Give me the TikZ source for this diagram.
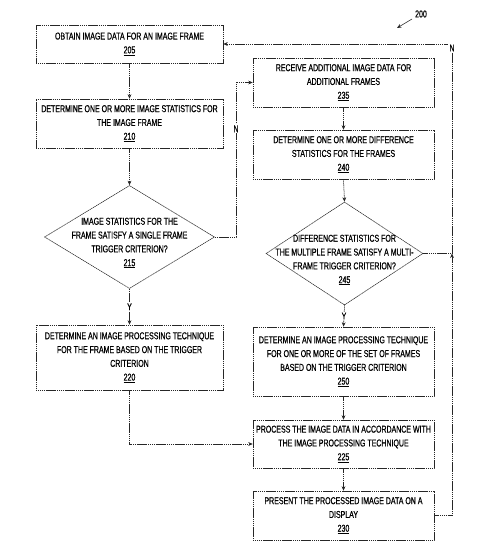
\documentclass[tikz,border=0pt]{standalone}
\usepackage{fontspec}
\setmainfont{Liberation Sans}[FakeStretch=0.70,FakeBold=0.6]
\usetikzlibrary{shapes.geometric,arrows.meta}
\tikzset{
  ln/.style={draw=black!85, line width=0.55pt, dash pattern=on 1.4pt off 0.5pt},
  box/.style={ln, rectangle, inner sep=0pt, align=center,
    font=\fontsize{10}{13.8}\selectfont},
  dia/.style={ln, diamond, inner sep=0pt},
  dtext/.style={align=center, inner sep=0pt, font=\fontsize{10}{13.8}\selectfont},
  conn/.style={ln, -{Stealth[length=4.5pt,width=3.8pt]}},
  plain/.style={ln},
  lab/.style={fill=white, inner sep=1pt, font=\fontsize{10}{11}\selectfont}
}
\begin{document}
\begin{tikzpicture}[x=1pt,y=-1pt]
\useasboundingbox (0,0) rectangle (496,556);
% left column
\node[box, minimum width=187pt, minimum height=38pt] (b205) at (129.5,44) {OBTAIN IMAGE DATA FOR AN IMAGE FRAME\\\underline{205}};
\node[box, minimum width=187pt, minimum height=49pt] (b210) at (129.5,123.5) {DETERMINE ONE OR MORE IMAGE STATISTICS FOR\\THE IMAGE FRAME\\\underline{210}};
\node[dia, minimum width=170pt, minimum height=103pt] (d215) at (129.5,237) {};
\node[dtext] (t215) at (129.5,243) {IMAGE STATISTICS FOR THE\\FRAME SATISFY A SINGLE FRAME\\TRIGGER CRITERION?\\\underline{215}};
\node[box, minimum width=187pt, minimum height=65pt] (b220) at (129.5,357.5) {DETERMINE AN IMAGE PROCESSING TECHNIQUE\\FOR THE FRAME BASED ON THE TRIGGER\\CRITERION\\\underline{220}};
% right column
\node[box, minimum width=181pt, minimum height=49pt] (b235) at (343.5,82.5) {RECEIVE ADDITIONAL IMAGE DATA FOR\\ADDITIONAL FRAMES\\\underline{235}};
\node[box, minimum width=181pt, minimum height=49pt] (b240) at (343.5,154.5) {DETERMINE ONE OR MORE DIFFERENCE\\STATISTICS FOR THE FRAMES\\\underline{240}};
\node[dia, minimum width=157pt, minimum height=103pt] (d245) at (344.5,253.5) {};
\node[dtext] (t245) at (344.5,260) {DIFFERENCE STATISTICS FOR\\THE MULTIPLE FRAME SATISFY A MULTI-\\FRAME TRIGGER CRITERION?\\\underline{245}};
\node[box, minimum width=181pt, minimum height=69pt] (b250) at (343.5,361.5) {DETERMINE AN IMAGE PROCESSING TECHNIQUE\\FOR ONE OR MORE OF THE SET OF FRAMES\\BASED ON THE TRIGGER CRITERION\\\underline{250}};
\node[box, minimum width=181pt, minimum height=48pt] (b225) at (343.5,444) {PROCESS THE IMAGE DATA IN ACCORDANCE WITH\\THE IMAGE PROCESSING TECHNIQUE\\\underline{225}};
\node[box, minimum width=181pt, minimum height=49pt] (b230) at (343.5,515.5) {PRESENT THE PROCESSED IMAGE DATA ON A\\DISPLAY\\\underline{230}};
% reference label
\node[inner sep=0pt, font=\fontsize{10}{11}\selectfont] (l200) at (421,14) {200};
\coordinate (a200) at (397,28);
\draw[conn, dash pattern=] (412,19) -- (a200);
% connectors
\draw[conn] (b205.south) -- (b210.north);
\draw[conn] (b210.south) -- (d215.north);
\coordinate (c215) at (236,237);
\draw[conn] (d215.east) -- (c215) |- node[lab, pos=0.35] (n215) {N} (b235.west);
\draw[conn] (d215.south) -- node[lab] (y215) {Y} (b220.north);
\draw[conn] (b220.south) |- (b225.west);
\draw[conn] (b235.south) -- (b240.north);
\draw[conn] (b240.south) -- (d245.north);
\draw[conn] (d245.south) -- node[lab] (y245) {Y} (b250.north);
\draw[conn] (b250.south) -- (b225.north);
\draw[conn] (b225.south) -- (b230.north);
\coordinate (j) at (452,253.5);
\coordinate (lb) at (452,515.5);
\coordinate (lt) at (452,44);
\draw[plain] (d245.east) -- (j);
\draw[conn] (b230.east) -- (lb) -- (j);
\draw[conn] (j) -- (lt) -- (b205.east);
\node[lab] (n245) at (452,48) {N};
\end{tikzpicture}
\end{document}
